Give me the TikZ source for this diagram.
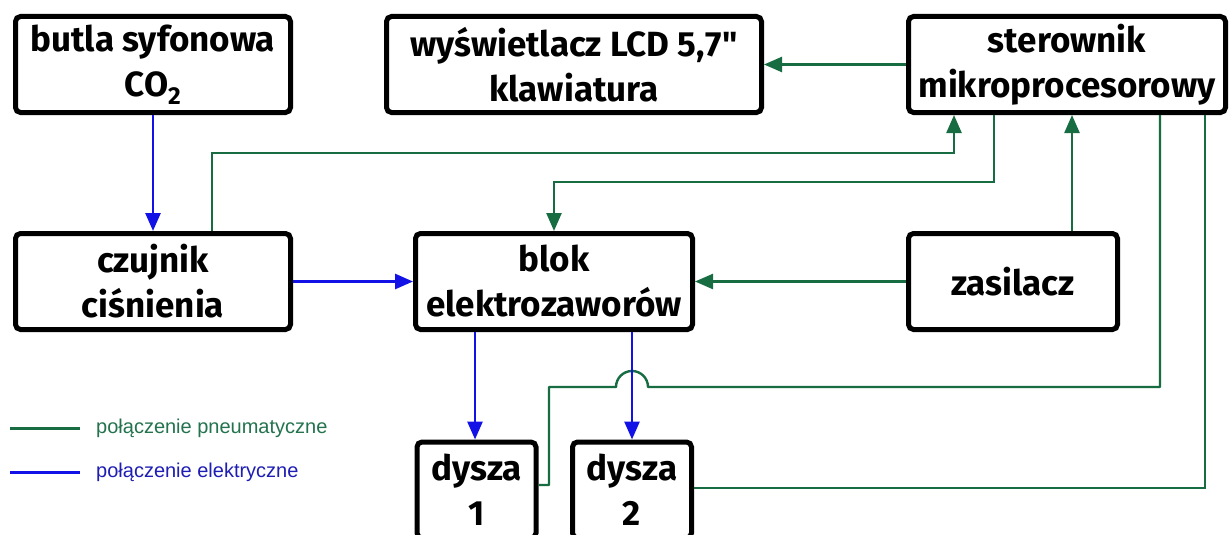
\documentclass[tikz,border=0pt]{standalone}
\usepackage{fontspec}
\setmainfont{Fira Sans}[Ligatures=TeXOff]
\newfontfamily\legf{Liberation Sans}
\usetikzlibrary{arrows.meta,calc}
\definecolor{pgreen}{RGB}{24,108,66}
\definecolor{eblue}{RGB}{18,18,230}
\definecolor{lgreen}{RGB}{35,115,78}
\definecolor{lblue}{RGB}{30,30,180}
\tikzset{
  blk/.style={draw=black, line width=5pt, rounded corners=5pt, fill=white, align=center, inner sep=0pt,
    font=\fontsize{35}{45}\selectfont\bfseries},
  pn/.style={draw=pgreen, line width=2.4pt},
  el/.style={draw=eblue, line width=2.8pt},
  tip/.style={-{Triangle[length=18pt,width=15pt]}},
  leg/.style={font=\legf\fontsize{20}{22}\selectfont, anchor=west, inner sep=0pt}
}
\begin{document}
\begin{tikzpicture}[x=1pt,y=-1pt]
\useasboundingbox (0,0) rectangle (1232,535);
\fill[white] (0,0) rectangle (1232,535);
% boxes
\node[blk, minimum width=275pt, minimum height=96pt] (butla) at (153,64.5) {butla syfonowa\\CO\textsubscript{2}};
\node[blk, minimum width=375pt, minimum height=96pt] (wys) at (574,64.5) {wyświetlacz LCD 5,7"\\klawiatura};
\node[blk, minimum width=317pt, minimum height=96pt] (ster) at (1067,64.5) {sterownik\\mikroprocesorowy};
\node[blk, minimum width=275pt, minimum height=96pt] (czuj) at (153,281.5) {czujnik\\ciśnienia};
\node[blk, minimum width=277pt, minimum height=96pt] (blok) at (554,281.5) {blok\\elektrozaworów};
\node[blk, minimum width=209pt, minimum height=96pt] (zas) at (1013,281.5) {zasilacz};
\node[blk, minimum width=119pt, minimum height=96pt] (d1) at (476.5,490) {dysza\\1};
\node[blk, minimum width=119pt, minimum height=96pt] (d2) at (632,490) {dysza\\2};
% x / y positions
\coordinate (x212) at (212,0);
\coordinate (x954) at (954,0);
\coordinate (x994) at (994,0);
\coordinate (x1072) at (1072,0);
\coordinate (x1160) at (1160,0);
\coordinate (x1205) at (1205,0);
\coordinate (x475) at (475,0);
\coordinate (x632) at (632,0);
\coordinate (x549) at (549,0);
\coordinate (hopR) at (648,387);
\coordinate (y153) at (0,153);
\coordinate (y182) at (0,182);
\coordinate (y387) at (0,387);
\coordinate (y485) at (0,485);
\coordinate (y488) at (0,488);
% pneumatic
\draw[pn,tip] (ster.west) -- (wys.east);
\draw[pn,tip] (czuj.north -| x212) -- (x212 |- y153) -- (x954 |- y153) -- (ster.south -| x954);
\draw[pn,tip] (ster.south -| x994) -- (x994 |- y182) -- (blok.north |- y182) -- (blok.north);
\draw[pn,tip] (zas.north -| x1072) -- (ster.south -| x1072);
\draw[pn,tip] (zas.west) -- (blok.east);
\draw[pn,line join=round] (ster.south -| x1160) -- (x1160 |- y387) -- (hopR) arc[start angle=0,end angle=-180,radius=16] -- (x549 |- y387) -- (x549 |- y485) -- (d1.east |- y485);
\draw[pn] (ster.south -| x1205) -- (x1205 |- y488) -- (d2.east |- y488);
% electric
\draw[el,tip] (butla.south) -- (czuj.north);
\draw[el,tip] (czuj.east) -- (blok.west);
\draw[el,tip] (blok.south -| x475) -- (d1.north -| x475);
\draw[el,tip] (blok.south -| x632) -- (d2.north);
% legend
\coordinate (lg1a) at (10,428);
\coordinate (lg1b) at (80,428);
\coordinate (lg2a) at (10,472);
\coordinate (lg2b) at (80,472);
\draw[pn,line width=3pt] (lg1a) -- (lg1b);
\draw[el,line width=3pt] (lg2a) -- (lg2b);
\node[leg, text=lgreen] (lt1) at (96,428) {połączenie pneumatyczne};
\node[leg, text=lblue] (lt2) at (96,472) {połączenie elektryczne};
\end{tikzpicture}
\end{document}
